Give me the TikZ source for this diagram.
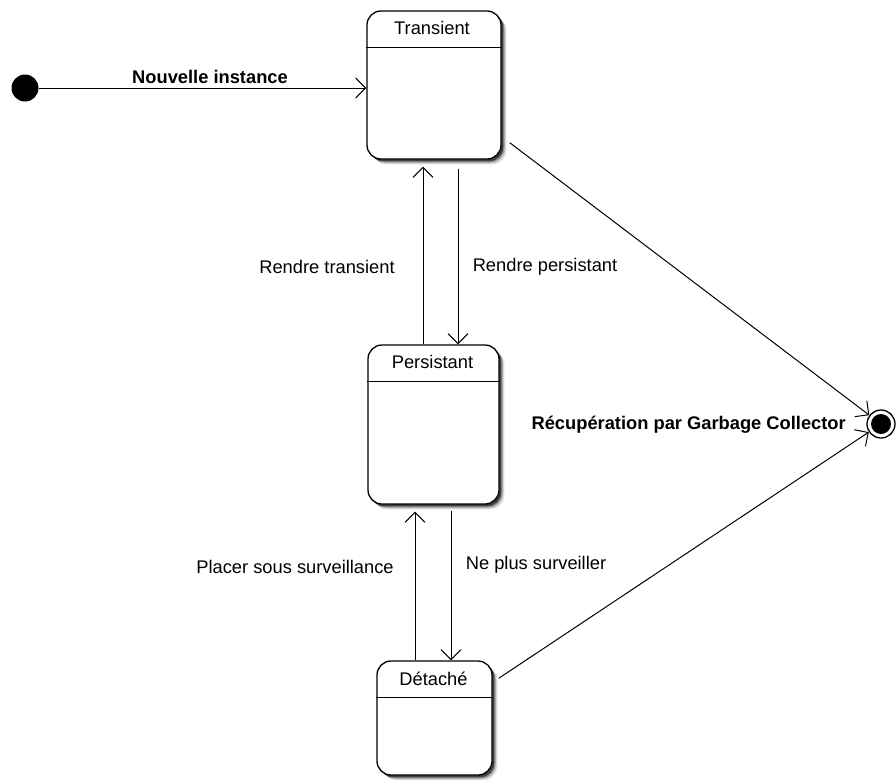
\documentclass[tikz,border=0pt]{standalone}
\usepackage{fontspec}
\setmainfont{Liberation Sans}
\usetikzlibrary{arrows.meta,shadows,calc}

\tikzset{
  statebox/.style={
    draw=black, line width=1.3pt, fill=white, rounded corners=14pt,
    rectangle, inner sep=0pt,
    general shadow={shadow xshift=5.5pt, shadow yshift=-5.5pt, fill=black!8},
    general shadow={shadow xshift=4.5pt, shadow yshift=-4.5pt, fill=black!20},
    general shadow={shadow xshift=3.5pt, shadow yshift=-3.5pt, fill=black!40},
    general shadow={shadow xshift=2.3pt, shadow yshift=-2.3pt, fill=black!75}
  },
  divider/.style={line width=1pt},
  title/.style={font=\fontsize{18.3}{21}\selectfont, inner sep=0pt},
  lbl/.style={font=\fontsize{18.3}{21}\selectfont, inner sep=0pt},
  blbl/.style={font=\fontsize{18.3}{21}\selectfont\bfseries, inner sep=0pt},
  trans/.style={line width=1pt, -{Straight Barb[length=10pt,width=20pt,line width=1pt]}}
}

\begin{document}
\begin{tikzpicture}[x=1pt,y=-1pt]
  \useasboundingbox (0,0) rectangle (896,779);

  % initial and final pseudo-states
  \node[circle, fill=black, minimum size=27pt, inner sep=0pt] (init) at (25,88) {};
  \node[circle, draw=black, line width=1.3pt, fill=white, minimum size=28pt, inner sep=0pt] (final) at (881,424) {};
  \node[circle, fill=black, minimum size=20pt, inner sep=0pt] (finaldot) at (final) {};

  % states
  \node[statebox, minimum width=134pt, minimum height=148pt] (transient) at (434,85) {};
  \node[statebox, minimum width=131pt, minimum height=159pt] (persistant) at (433.5,424.5) {};
  \node[statebox, minimum width=115pt, minimum height=114pt] (detache) at (434.5,718) {};

  % compartment dividers and names
  \draw[divider] ($(transient.north west)+(0,37)$) -- ($(transient.north east)+(0,37)$);
  \draw[divider] ($(persistant.north west)+(0,37)$) -- ($(persistant.north east)+(0,37)$);
  \draw[divider] ($(detache.north west)+(0,37)$) -- ($(detache.north east)+(0,37)$);
  \node[title] (tname) at ($(transient.north)+(-2,18)$) {Transient};
  \node[title] (pname) at ($(persistant.north)+(-1,18)$) {Persistant};
  \node[title] (dname) at ($(detache.north)+(-1,18)$) {Détaché};

  % transitions
  \draw[trans] (init.east) -- (init -| transient.west);
  \node[blbl] (lnew) at (210,77) {Nouvelle instance};

  \draw[trans] ($(persistant.north)+(-10.5,0)$) -- ($(transient.south)+(-11,7)$);
  \draw[trans] ($(transient.south)+(24,9)$) -- ($(persistant.north)+(24.5,0)$);
  \node[lbl] (lrt) at (327,267) {Rendre transient};
  \node[lbl] (lrp) at (545,267) {Rendre persistant};

  \draw[trans] ($(detache.north)+(-19.5,0)$) -- ($(persistant.south)+(-18.5,7)$);
  \draw[trans] ($(persistant.south)+(17.5,6)$) -- ($(detache.north)+(16.5,0)$);
  \node[lbl] (lps) at (295,567) {Placer sous surveillance};
  \node[lbl] (lnp) at (536,565) {Ne plus surveiller};

  \draw[trans] ($(transient.south east)+(8,-17)$) -- (final);
  \draw[trans] ($(detache.north east)+(6,18)$) -- (final);
  \node[blbl, anchor=east] (lgc) at (846,425) {Récupération par Garbage Collector};
\end{tikzpicture}
\end{document}
